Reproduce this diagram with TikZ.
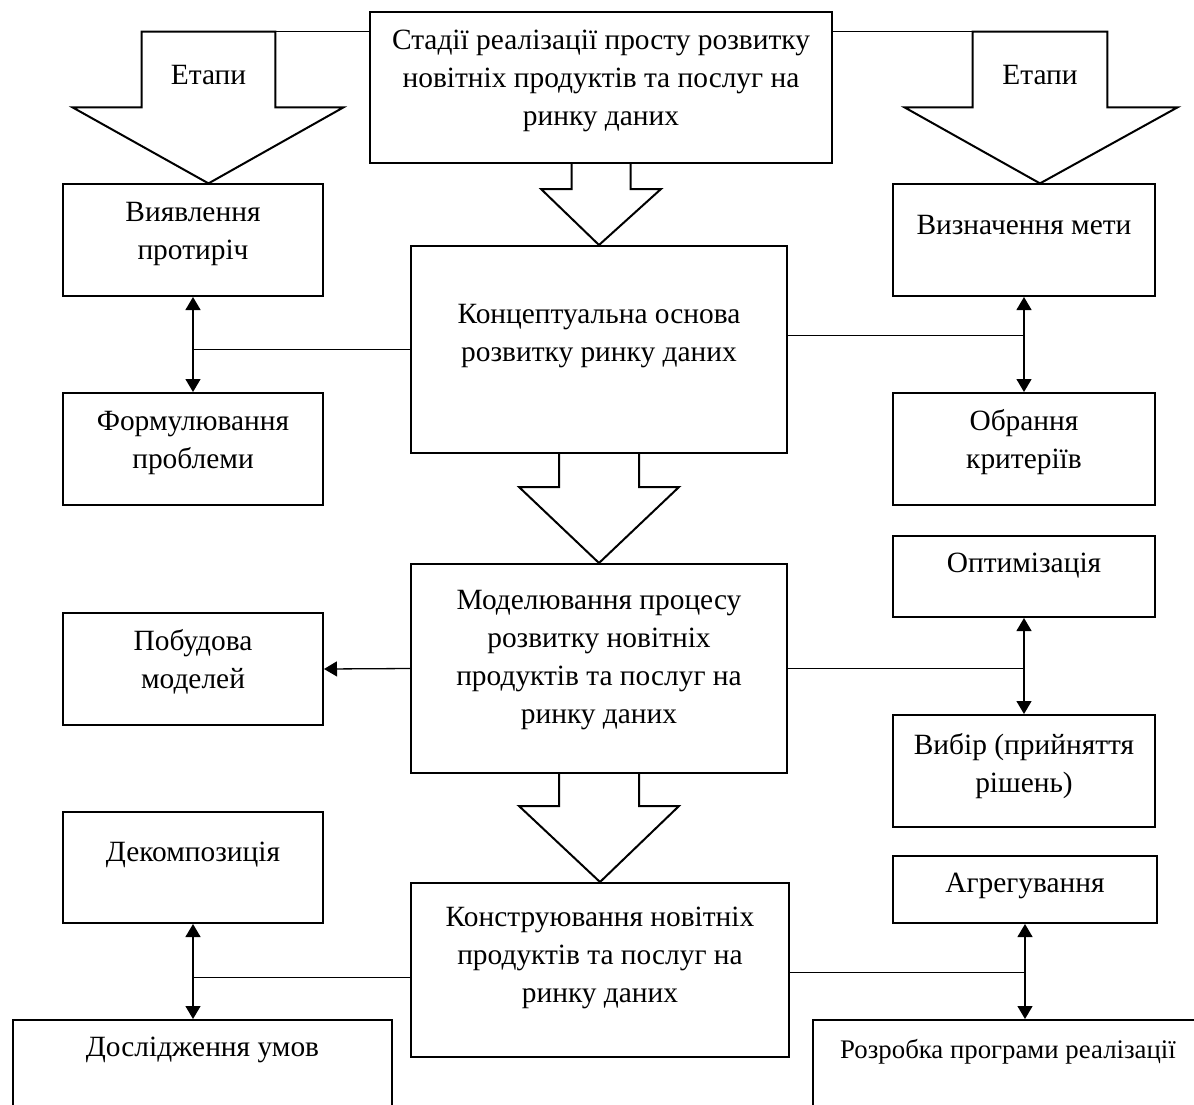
\documentclass[tikz,border=0pt]{standalone}
\usepackage{fontspec}
\setmainfont{Liberation Serif}
\usetikzlibrary{positioning,arrows.meta,calc,fit}

\tikzset{
  stagebox/.style={draw, line width=1pt, inner sep=0pt},
  stagetext/.style={align=center, inner sep=0pt, font=\fontsize{14.7}{19}\selectfont},
  link/.style={line width=0.5pt},
  dlink/.style={line width=0.65pt, {Triangle[length=6.5pt,width=7.5pt]}-{Triangle[length=6.5pt,width=7.5pt]}},
  slink/.style={line width=0.65pt, -{Triangle[length=6.5pt,width=7.5pt]}},
  blockarrow/.style={line width=1pt, line join=miter},
}

\newcommand{\blockdown}[5]{%
  \draw[blockarrow] ($(#1.south)+(-#3,0)$) -- ($(#1.south)+(-#3,#4)$) -- ($(#1.south)+(-#5,#4)$)
    -- (#2.north) -- ($(#1.south)+(#5,#4)$) -- ($(#1.south)+(#3,#4)$) -- ($(#1.south)+(#3,0)$);}

\begin{document}
\begin{tikzpicture}[x=0.5pt, y=-0.5pt]
\useasboundingbox (0,0) rectangle (1194,1104);

% boxes
\node[stagebox, fit={(370,12) (832,163)}] (stadii) {};
\node[stagebox, fit={(63,184) (323,296)}] (viyav) {};
\node[stagebox, fit={(63,393) (323,505)}] (formul) {};
\node[stagebox, fit={(893,184) (1155,296)}] (vyzn) {};
\node[stagebox, fit={(893,393) (1155,505)}] (obran) {};
\node[stagebox, fit={(411,246) (787,453)}] (concept) {};
\node[stagebox, fit={(411,564) (787,773)}] (model) {};
\node[stagebox, fit={(63,613) (323,725)}] (pobud) {};
\node[stagebox, fit={(893,536) (1155,617)}] (optim) {};
\node[stagebox, fit={(893,715) (1155,827)}] (vybir) {};
\node[stagebox, fit={(63,812) (323,923)}] (dekomp) {};
\node[stagebox, fit={(411,883) (789,1057)}] (construct) {};
\node[stagebox, fit={(893,856) (1157,923)}] (agreg) {};
\node[stagebox, fit={(13,1020) (392,1150)}] (doslid) {};
\node[stagebox, fit={(813,1020) (1203,1150)}] (rozrob) {};

% texts
\node[stagetext, below=5.7pt of stadii.north] (stadii-t) {\strut Стадії реалізації просту розвитку\\ новітніх продуктів та послуг на\\ ринку даних};
\node[stagetext, below=5.7pt of viyav.north] (viyav-t) {\strut Виявлення\\ протиріч};
\node[stagetext, below=5.7pt of formul.north] (formul-t) {\strut Формулювання\\ проблеми};
\node[stagetext, below=12.2pt of vyzn.north] (vyzn-t) {\strut Визначення мети};
\node[stagetext, below=5.7pt of obran.north] (obran-t) {\strut Обрання\\ критеріїв};
\node[stagetext, below=25.7pt of concept.north] (concept-t) {\strut Концептуальна основа\\ розвитку ринку даних};
\node[stagetext, below=9.7pt of model.north] (model-t) {\strut Моделювання процесу\\ розвитку новітніх\\ продуктів та послуг на\\ ринку даних};
\node[stagetext, below=5.7pt of pobud.north] (pobud-t) {\strut Побудова\\ моделей};
\node[stagetext, below=5.2pt of optim.north] (optim-t) {\strut Оптимізація};
\node[stagetext, below=6.7pt of vybir.north] (vybir-t) {\strut Вибір (прийняття\\ рішень)};
\node[stagetext, below=11.8pt of dekomp.north] (dekomp-t) {\strut Декомпозиція};
\node[stagetext, below=8.7pt of construct.north] (construct-t) {\strut Конструювання новітніх\\ продуктів та послуг на\\ ринку даних};
\node[stagetext, below=5.2pt of agreg.north] (agreg-t) {\strut Агрегування};
\node[stagetext, below=5.2pt of doslid.north] (doslid-t) {\strut Дослідження умов};
\node[stagetext, font=\fontsize{13.4}{17}\selectfont, below=7.6pt of rozrob.north] (rozrob-t) {\strut Розробка програми реалізації};

% big arrows
\node[fit={(142,32) (275,107)}, inner sep=0pt] (etapL) {};
\node[fit={(973,32) (1107,107)}, inner sep=0pt] (etapR) {};
\node[stagetext, below=12.7pt of etapL.north] (etapL-t) {\strut Етапи};
\node[stagetext, below=12.7pt of etapR.north] (etapR-t) {\strut Етапи};
\draw[blockarrow] (etapL.north west) -- (etapL.south west) -- ++(-69,0) -- ($(etapL.south)+(0,76)$)
  -- ($(etapL.south east)+(68,0)$) -- (etapL.south east) -- (etapL.north east) -- cycle;
\draw[blockarrow] (etapR.north west) -- (etapR.south west) -- ++(-68,0) -- ($(etapR.south)+(0,76)$)
  -- ($(etapR.south east)+(70,0)$) -- (etapR.south east) -- (etapR.north east) -- cycle;
\draw[link] (stadii.west |- etapL.north) -- (etapL.north east);
\draw[link] (stadii.east |- etapR.north) -- (etapR.north west);

\blockdown{stadii}{concept}{29.5}{25}{60}
\blockdown{concept}{model}{40}{33}{80}
\blockdown{model}{construct}{40}{32}{80}

% connectors
\draw[dlink] (viyav.south) -- (formul.north);
\draw[link] (concept.west) -- (concept.west -| viyav.south);
\draw[dlink] (vyzn.south) -- (obran.north);
\draw[link] ([yshift=7.25pt]concept.east) -- ([yshift=7.25pt]concept.east -| vyzn.south);

\draw[slink] (model.west) -- (pobud.east);
\draw[dlink] (optim.south) -- (vybir.north);
\draw[link] (model.east) -- (model.east -| optim.south);

\draw[dlink] (dekomp.south) -- (dekomp.south |- doslid.north);
\draw[link] ([yshift=-3.5pt]construct.west) -- ([yshift=-3.5pt]construct.west -| dekomp.south);
\draw[dlink] (agreg.south) -- (agreg.south |- rozrob.north);
\draw[link] ([yshift=-1pt]construct.east) -- ([yshift=-1pt]construct.east -| agreg.south);
\end{tikzpicture}
\end{document}
